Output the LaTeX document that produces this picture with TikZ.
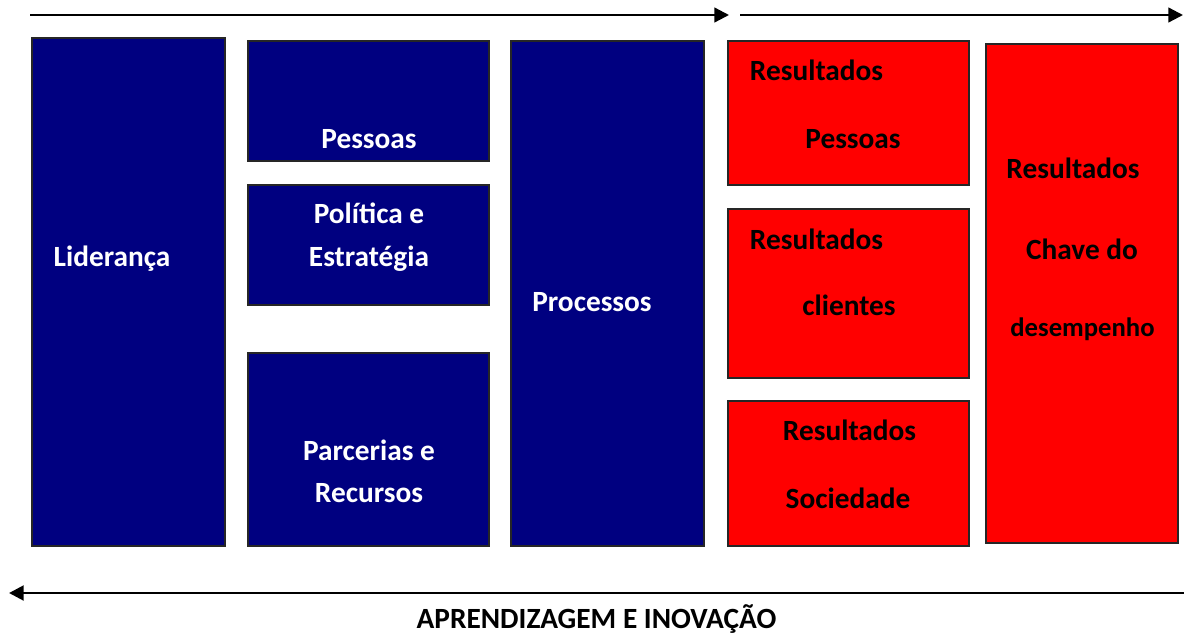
\documentclass[tikz,border=0pt]{standalone}
\usepackage{fontspec}
\setmainfont{Carlito}
\usetikzlibrary{arrows.meta,fit}
\definecolor{azul}{HTML}{000080}
\definecolor{vermelho}{HTML}{FF0000}
\tikzset{
  caixa/.style={draw=black!85, line width=0.8pt, inner sep=0pt},
  azulbox/.style={caixa, fill=azul},
  vermbox/.style={caixa, fill=vermelho},
  rotulo/.style={inner sep=0pt, text height=14pt, text depth=0pt, font=\fontsize{22}{26}\selectfont\bfseries},
  rotb/.style={rotulo, text=white},
  rotv/.style={rotulo, text=black},
  seta/.style={line width=1.7pt, -{Triangle[length=11pt,width=11pt]}}
}
\begin{document}
\begin{tikzpicture}[x=0.75pt,y=-0.75pt]
      \useasboundingbox (0,0) rectangle (1184,636);
      % caixas azuis
      \node[azulbox, fit={(32,38) (225,546)}] (lid) {};
      \node[azulbox, fit={(248,41) (489,161)}] (pes) {};
      \node[azulbox, fit={(248,185) (489,305)}] (pol) {};
      \node[azulbox, fit={(248,353) (489,546)}] (par) {};
      \node[azulbox, fit={(511,41) (704,546)}] (proc) {};
      % caixas vermelhas
      \node[vermbox, fit={(728,41) (969,185)}] (rpes) {};
      \node[vermbox, fit={(728,209) (969,378)}] (rcli) {};
      \node[vermbox, fit={(728,401) (969,546)}] (rsoc) {};
      \node[vermbox, fit={(986,44) (1178,543)}] (rcha) {};
      % textos
      \node[rotb] (tlid) at (112,257) {Liderança};
      \node[rotb] (tpes) at (369,139) {Pessoas};
      \node[rotb] (tpol1) at (369,214.5) {Política e};
      \node[rotb] (tpol2) at (369,257) {Estratégia};
      \node[rotb] (tpar1) at (369,451) {Parcerias e};
      \node[rotb] (tpar2) at (369,493.5) {Recursos};
      \node[rotb] (tproc) at (592,302) {Processos};
      \node[rotv] (trpes1) at (816.5,71) {Resultados};
      \node[rotv] (trpes2) at (853,139) {Pessoas};
      \node[rotv] (trcli1) at (816.5,240) {Resultados};
      \node[rotv] (trcli2) at (849,306) {clientes};
      \node[rotv] (trsoc1) at (849.5,431.5) {Resultados};
      \node[rotv] (trsoc2) at (848,499) {Sociedade};
      \node[rotv] (trcha1) at (1073,169) {Resultados};
      \node[rotv] (trcha2) at (1082,250) {Chave do};
      \node[rotv, font=\fontsize{20}{24}\selectfont\bfseries] (trcha3) at (1082.5,327) {desempenho};
      % setas
      \coordinate (s1a) at (30,15);
      \coordinate (s1b) at (729,15);
      \coordinate (s2a) at (740,15);
      \coordinate (s2b) at (1183,15);
      \draw[seta] (s1a) -- (s1b);
      \draw[seta] (s2a) -- (s2b);
      \coordinate (s3a) at (1184,593);
      \coordinate (s3m2) at (872,593);
      \coordinate (s3m1) at (321,593);
      \coordinate (s3b) at (9,593);
      \draw[line width=2.2pt] (s3a) -- (s3m2);
      \draw[line width=0.8pt] (s3m2) -- (s3m1);
      \draw[seta, line width=2.2pt] (s3m1) -- (s3b);
      \node[rotv] (tapr) at (596.5,619) {APRENDIZAGEM E INOVAÇÃO};
    \end{tikzpicture}
\end{document}
